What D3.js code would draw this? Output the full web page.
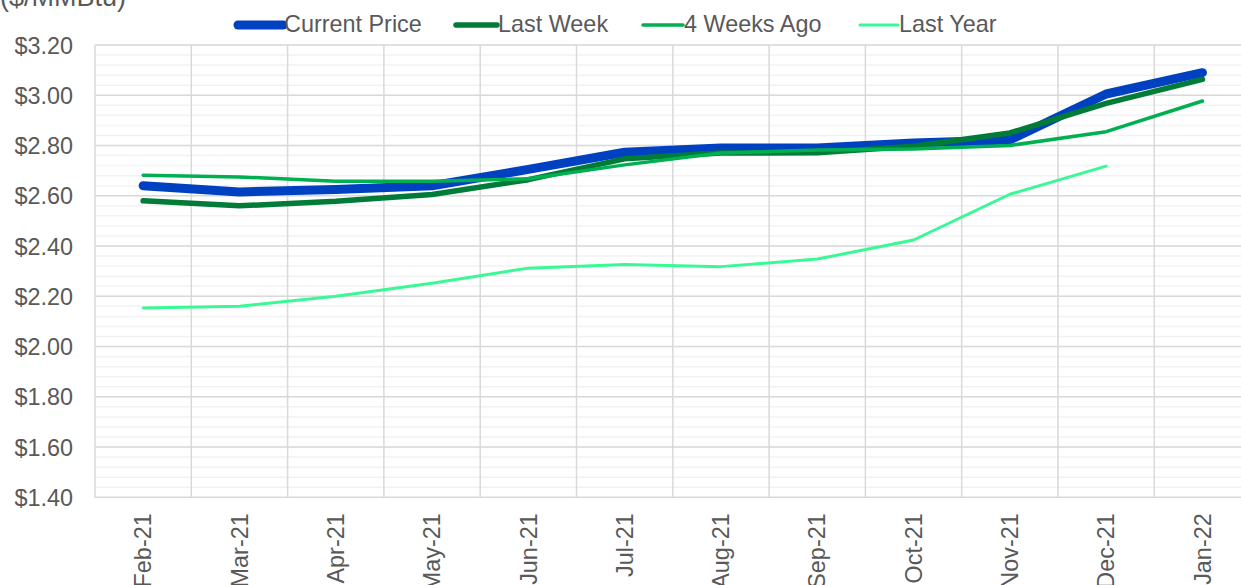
<!DOCTYPE html>
<html>
<head>
<meta charset="utf-8">
<script src="https://cdn.jsdelivr.net/npm/d3@7"></script>
<style>
  body { margin: 0; background: #fff; }
  svg { display: block; font-family: "Liberation Sans", Arial, sans-serif; }
  .tick text { fill: #595959; }
</style>
</head>
<body>
<div id="chart"></div>
<script>
// months on the x axis
var months = ["Feb-21", "Mar-21", "Apr-21", "May-21", "Jun-21", "Jul-21",
              "Aug-21", "Sep-21", "Oct-21", "Nov-21", "Dec-21", "Jan-22"];

// $/MMBtu values
var currentPrice = [2.64, 2.615, 2.625, 2.64, 2.705, 2.773, 2.79, 2.79, 2.81, 2.822, 3.005, 3.09];
var lastWeek     = [2.58, 2.56, 2.578, 2.605, 2.664, 2.747, 2.77, 2.771, 2.797, 2.85, 2.968, 3.063];
var fourWeeksAgo = [2.682, 2.675, 2.658, 2.658, 2.668, 2.723, 2.77, 2.782, 2.786, 2.80, 2.855, 2.977];
var lastYear     = [2.153, 2.16, 2.20, 2.252, 2.312, 2.326, 2.318, 2.348, 2.424, 2.606, 2.718, null];

var yTicks = [1.40, 1.60, 1.80, 2.00, 2.20, 2.40, 2.60, 2.80, 3.00, 3.20];

var series = [
  {name: "Current Price", values: currentPrice, color: "#0041C1", width: 9,   legendX: 238, legendW: 45},
  {name: "Last Week",     values: lastWeek,     color: "#007C38", width: 5.5, legendX: 456, legendW: 41},
  {name: "4 Weeks Ago",   values: fourWeeksAgo, color: "#00B050", width: 3.5, legendX: 643, legendW: 40},
  {name: "Last Year",     values: lastYear,     color: "#38FA94", width: 3,   legendX: 860, legendW: 38}
];

var width = 1241;
var height = 585;

var plotLeft = 95, plotRight = 1250.6, plotTop = 45, plotBottom = 497.3;

var x = d3.scaleBand().domain(months).range([plotLeft, plotRight]);
var y = d3.scaleLinear().domain([1.40, 3.20]).range([plotBottom, plotTop]);

var svg = d3.select("#chart").append("svg")
  .attr("width", width)
  .attr("height", height);

// minor gridlines every 0.04
var minor = d3.range(1.44, 3.2, 0.04);
svg.append("g").selectAll("line")
  .data(minor)
  .enter().append("line")
  .attr("x1", plotLeft).attr("x2", plotRight)
  .attr("y1", function(d) { return y(d); })
  .attr("y2", function(d) { return y(d); })
  .attr("stroke", "#F2F2F2")
  .attr("stroke-width", 1.5);

// major gridlines
svg.append("g").selectAll("line")
  .data(yTicks)
  .enter().append("line")
  .attr("x1", plotLeft).attr("x2", plotRight)
  .attr("y1", function(d) { return y(d); })
  .attr("y2", function(d) { return y(d); })
  .attr("stroke", "#D9D9D9")
  .attr("stroke-width", 1.5);

// vertical gridlines between categories
var bounds = months.map(function(m) { return x(m); });
bounds.push(plotRight);
svg.append("g").selectAll("line")
  .data(bounds)
  .enter().append("line")
  .attr("x1", function(d) { return d; })
  .attr("x2", function(d) { return d; })
  .attr("y1", plotTop).attr("y2", plotBottom)
  .attr("stroke", "#D9D9D9")
  .attr("stroke-width", 1.5);

// y axis labels
var yAxis = svg.append("g")
  .attr("transform", "translate(" + plotLeft + ",0)")
  .call(d3.axisLeft(y).tickValues(yTicks).tickFormat(d3.format("$.2f")).tickSize(0).tickPadding(22));
yAxis.select(".domain").remove();
yAxis.selectAll("text")
  .attr("font-size", "23.4px")
  .attr("font-family", "Liberation Sans, Arial, sans-serif")
  .attr("dy", "0.35em");

// x axis labels, rotated
var xAxis = svg.append("g")
  .attr("transform", "translate(0," + plotBottom + ")")
  .call(d3.axisBottom(x).tickSize(0));
xAxis.select(".domain").remove();
xAxis.selectAll("text")
  .attr("font-size", "23.4px")
  .attr("font-family", "Liberation Sans, Arial, sans-serif")
  .attr("text-anchor", "end")
  .attr("x", -16)
  .attr("y", 0)
  .attr("dy", "0.35em")
  .attr("transform", "rotate(-90)");

// lines
var line = d3.line()
  .defined(function(d) { return d.v != null; })
  .x(function(d) { return x(d.m) + x.bandwidth() / 2; })
  .y(function(d) { return y(d.v); });

series.forEach(function(s) {
  var pts = months.map(function(m, i) { return {m: m, v: s.values[i]}; });
  svg.append("path")
    .datum(pts)
    .attr("fill", "none")
    .attr("stroke", s.color)
    .attr("stroke-width", s.width)
    .attr("stroke-linecap", "round")
    .attr("stroke-linejoin", "round")
    .attr("d", line);
});

// legend
var legend = svg.append("g");
series.forEach(function(s) {
  legend.append("line")
    .attr("x1", s.legendX).attr("x2", s.legendX + s.legendW)
    .attr("y1", 25).attr("y2", 25)
    .attr("stroke", s.color)
    .attr("stroke-width", s.width)
    .attr("stroke-linecap", "round");
  legend.append("text")
    .attr("x", s.legendX + s.legendW + 1)
    .attr("y", 31.5)
    .attr("font-size", "23.4px")
    .attr("fill", "#595959")
    .text(s.name);
});

// unit title, cut at the top like the original
svg.append("text")
  .attr("x", 0)
  .attr("y", 6)
  .attr("font-size", "27px")
  .attr("fill", "#595959")
  .text("($/MMBtu)");
</script>
</body>
</html>
